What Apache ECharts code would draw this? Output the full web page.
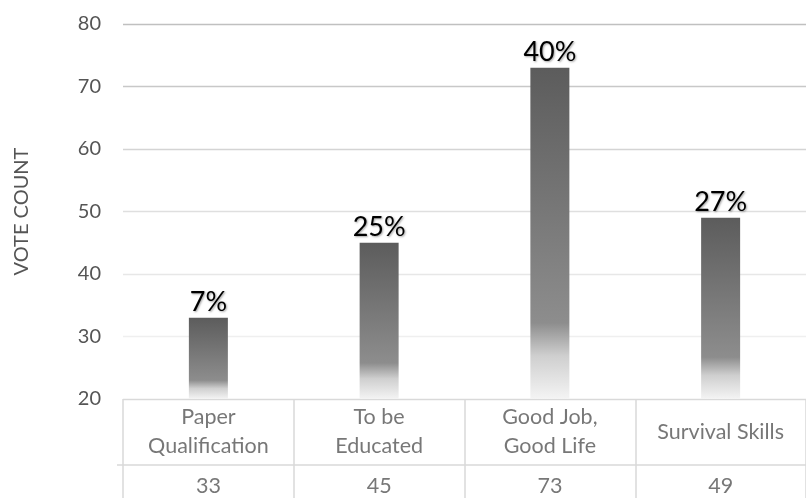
<!DOCTYPE html>
<html><head><meta charset="utf-8">
<script src="https://cdn.jsdelivr.net/npm/echarts@6/dist/echarts.min.js"></script>
<style>html,body{margin:0;padding:0;background:#fff}#c{width:806px;height:498px}</style>
</head><body><div id="c"></div>
<script>
const categories = ['Paper\nQualification', 'To be\nEducated', 'Good Job,\nGood Life', 'Survival Skills'];
const voteCounts = [33, 45, 73, 49];
const percentLabels = ['7%', '25%', '40%', '27%'];
const yMin = 20, yMax = 80, yInterval = 10;
const yTickValues = [20, 30, 40, 50, 60, 70, 80];

const FONT = 'Lato';
const TXT = '#555555';
const TABLE_LINE = '#d9d9d9';
const gridColors = ['#d9d9d9', '#efefef', '#e7e7e7', '#dfdfdf', '#d4d4d4', '#c8c8c8', '#c0c0c0'];

const chart = echarts.init(document.getElementById('c'), null, {renderer: 'canvas'});
chart.setOption({
  animation: false,
  backgroundColor: '#fff',
  grid: [
    {left: 123, top: 24, width: 692, height: 375},
    {left: 123, top: 399, width: 692, height: 99}
  ],
  xAxis: [
    {type: 'category', gridIndex: 0, data: categories,
     axisLine: {show: false}, axisTick: {show: false}, axisLabel: {show: false}},
    {type: 'category', gridIndex: 1, data: categories, boundaryGap: true,
     axisLine: {show: false}, axisTick: {show: false}, axisLabel: {show: false},
     splitLine: {show: true, lineStyle: {color: TABLE_LINE, width: 1.5}}}
  ],
  yAxis: [
    {type: 'value', gridIndex: 0, min: yMin, max: yMax, interval: yInterval,
     name: 'VOTE COUNT', nameLocation: 'middle', nameGap: 91, nameRotate: 90,
     nameTextStyle: {fontFamily: FONT, fontSize: 20, color: TXT},
     axisLine: {show: false}, axisTick: {show: false},
     axisLabel: {fontFamily: FONT, fontSize: 20, color: TXT, margin: 22},
     splitLine: {show: false}},
    {type: 'value', gridIndex: 1, min: 0, max: 3, interval: 1,
     axisLine: {show: false}, axisLabel: {show: false},
     axisTick: {show: true, customValues: [1], length: 6, lineStyle: {color: TABLE_LINE, width: 1.5}},
     splitLine: {show: false}}
  ],
  series: [
    {type: 'line', xAxisIndex: 0, yAxisIndex: 0, data: [], z: 1, silent: true,
     markLine: {z: 1, silent: true, symbol: ['none', 'none'], label: {show: false},
       data: yTickValues.map((v, i) => ({yAxis: v, lineStyle: {color: gridColors[i], width: 1.3, type: 'solid'}}))}},
    {type: 'bar', xAxisIndex: 0, yAxisIndex: 0, data: voteCounts, barWidth: 39, z: 3,
     itemStyle: {color: new echarts.graphic.LinearGradient(0, 0, 0, 1, [
       {offset: 0, color: '#5c5c5c'},
       {offset: 0.77, color: '#8d8d8d'},
       {offset: 0.87, color: '#cfcfcf'},
       {offset: 1, color: '#f4f4f4'}
     ])},
     label: {show: true, position: 'top', distance: 2,
       formatter: p => percentLabels[p.dataIndex],
       fontFamily: FONT, fontSize: 27, color: '#000',
       textShadowColor: 'rgba(0,0,0,0.35)', textShadowBlur: 2, textShadowOffsetX: 1, textShadowOffsetY: 1}},
    {type: 'scatter', xAxisIndex: 1, yAxisIndex: 1, silent: true, symbolSize: 1,
     itemStyle: {color: 'rgba(0,0,0,0)'},
     data: categories.map((c, i) => [i, 2, c]),
     label: {show: true, position: 'inside', formatter: p => p.data[2],
       fontFamily: FONT, fontSize: 21.5, lineHeight: 29, color: TXT},
     markLine: {silent: true, symbol: ['none', 'none'], label: {show: false},
       lineStyle: {color: TABLE_LINE, width: 1.5, type: 'solid'},
       data: [{yAxis: 1}]}},
    {type: 'scatter', xAxisIndex: 1, yAxisIndex: 1, silent: true, symbolSize: 1,
     itemStyle: {color: 'rgba(0,0,0,0)'},
     data: voteCounts.map((v, i) => [i, 0.35, String(v)]),
     label: {show: true, position: 'inside', formatter: p => p.data[2],
       fontFamily: FONT, fontSize: 21.5, color: TXT}}
  ]
});
</script>
</body></html>
